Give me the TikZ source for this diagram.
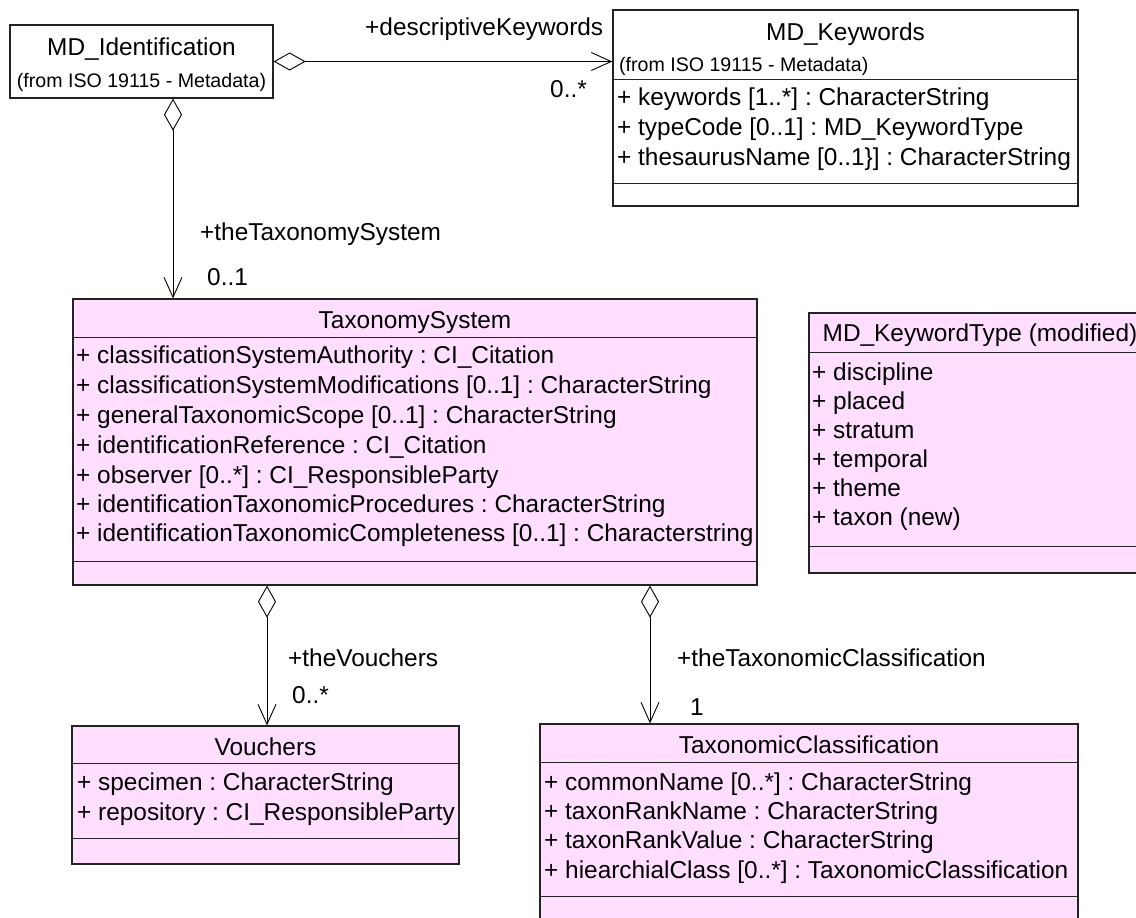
\documentclass[tikz,border=0pt]{standalone}
\usepackage{fontspec}
\setmainfont{Liberation Sans}
\usetikzlibrary{arrows.meta}
\definecolor{classpink}{RGB}{255,222,255}
\definecolor{edgegray}{RGB}{35,35,35}
\frenchspacing

\begin{document}
\begin{tikzpicture}[x=1pt,y=-1pt,
  classbox/.style={draw=edgegray, line width=1.3pt, rectangle, inner sep=0pt},
  pinkbox/.style={classbox, fill=classpink},
  whitebox/.style={classbox, fill=white},
  divider/.style={draw=edgegray, line width=1.2pt},
  big/.style={font=\fontsize{24.4pt}{29pt}\selectfont, inner sep=0pt, text height=17.5pt, text depth=0pt},
  small/.style={font=\fontsize{19.6pt}{24pt}\selectfont, inner sep=0pt, text height=14pt, text depth=0pt},
  title/.style={big, anchor=center},
  attr/.style={big, anchor=west},
  lbl/.style={big, anchor=west},
  assoc/.style={draw=black, line width=0.9pt,
    arrows={Diamond[open,length=32pt,width=18pt]-Straight Barb[length=20pt,width=18pt]}},
]
\useasboundingbox (0,0) rectangle (1136,918);
\clip (0,0) rectangle (1136,918);

% ---------- MD_Identification ----------
\node[whitebox, minimum width=263pt, minimum height=73pt] (ident) at (141.5,61.5) {};
\node[title] (identT) at (141.5,47) {MD\_Identification};
\node[small, anchor=center] (identS) at (141.5,80) {(from ISO 19115 - Metadata)};

% ---------- MD_Keywords ----------
\node[whitebox, minimum width=465pt, minimum height=196pt] (kw) at (845.5,108) {};
\node[title] (kwT) at (845.5,32) {MD\_Keywords};
\node[small, anchor=west] (kwS) at (619,64) {(from ISO 19115 - Metadata)};
\node[attr] (kwA1) at (617,97) {+ keywords [1..*] : CharacterString};
\node[attr] (kwA2) at (617,127) {+ typeCode [0..1] : MD\_KeywordType};
\node[attr] (kwA3) at (617,157) {+ thesaurusName [0..1\}] : CharacterString};
\draw[divider] ([yshift=-70pt]kw.north west) -- ([yshift=-70pt]kw.north east);
\draw[divider] ([yshift=-174pt]kw.north west) -- ([yshift=-174pt]kw.north east);

% ---------- TaxonomySystem ----------
\node[pinkbox, minimum width=684pt, minimum height=286pt] (tsys) at (415,442) {};
\node[title] (tsysT) at (415,320) {TaxonomySystem};
\node[attr] (tsysA1) at (76,355) {+ classificationSystemAuthority : CI\_Citation};
\node[attr] (tsysA2) at (76,385) {+ classificationSystemModifications [0..1] : CharacterString};
\node[attr] (tsysA3) at (76,415) {+ generalTaxonomicScope [0..1] : CharacterString};
\node[attr] (tsysA4) at (76,445) {+ identificationReference : CI\_Citation};
\node[attr] (tsysA5) at (76,475) {+ observer [0..*] : CI\_ResponsibleParty};
\node[attr] (tsysA6) at (76,504) {+ identificationTaxonomicProcedures : CharacterString};
\node[attr] (tsysA7) at (76,533) {+ identificationTaxonomicCompleteness [0..1] : Characterstring};
\draw[divider] ([yshift=-39pt]tsys.north west) -- ([yshift=-39pt]tsys.north east);
\draw[divider] ([yshift=-263pt]tsys.north west) -- ([yshift=-263pt]tsys.north east);

% ---------- MD_KeywordType (modified) ----------
\node[pinkbox, minimum width=342pt, minimum height=260pt] (kwt) at (980,443) {};
\node[title] (kwtT) at (980,333) {MD\_KeywordType (modified)};
\node[attr] (kwtA1) at (812,372) {+ discipline};
\node[attr] (kwtA2) at (812,401) {+ placed};
\node[attr] (kwtA3) at (812,430) {+ stratum};
\node[attr] (kwtA4) at (812,459) {+ temporal};
\node[attr] (kwtA5) at (812,488) {+ theme};
\node[attr] (kwtA6) at (812,517) {+ taxon (new)};
\draw[divider] ([yshift=-40pt]kwt.north west) -- ([yshift=-40pt]kwt.north east);
\draw[divider] ([yshift=-234pt]kwt.north west) -- ([yshift=-234pt]kwt.north east);

% ---------- Vouchers ----------
\node[pinkbox, minimum width=387pt, minimum height=138pt] (vch) at (265.5,795) {};
\node[title] (vchT) at (265.5,747) {Vouchers};
\node[attr] (vchA1) at (77,782) {+ specimen : CharacterString};
\node[attr] (vchA2) at (77,812) {+ repository : CI\_ResponsibleParty};
\draw[divider] ([yshift=-38pt]vch.north west) -- ([yshift=-38pt]vch.north east);
\draw[divider] ([yshift=-113pt]vch.north west) -- ([yshift=-113pt]vch.north east);

% ---------- TaxonomicClassification ----------
\node[pinkbox, minimum width=538pt, minimum height=216pt] (tcl) at (809,832) {};
\node[title] (tclT) at (809,745) {TaxonomicClassification};
\node[attr] (tclA1) at (544,782) {+ commonName [0..*] : CharacterString};
\node[attr] (tclA2) at (544,811) {+ taxonRankName : CharacterString};
\node[attr] (tclA3) at (544,840) {+ taxonRankValue : CharacterString};
\node[attr] (tclA4) at (544,870) {+ hiearchialClass [0..*] : TaxonomicClassification};
\draw[divider] ([yshift=-39pt]tcl.north west) -- ([yshift=-39pt]tcl.north east);
\draw[divider] ([yshift=-173pt]tcl.north west) -- ([yshift=-173pt]tcl.north east);

% ---------- aggregations ----------
\coordinate (xA) at (173,0);
\coordinate (xB) at (267,0);
\coordinate (xC) at (650,0);
\draw[assoc] (ident.east) -- (ident.east -| kw.west);
\draw[assoc] (ident.south -| xA) -- (tsys.north -| xA);
\draw[assoc] (tsys.south -| xB) -- (vch.north -| xB);
\draw[assoc] (tsys.south -| xC) -- (tcl.north -| xC);

% ---------- role names and multiplicities ----------
\node[lbl] (r1) at (365,27) {+descriptiveKeywords};
\node[lbl] (m1) at (550,89) {0..*};
\node[lbl] (r2) at (200,232) {+theTaxonomySystem};
\node[lbl] (m2) at (207,277) {0..1};
\node[lbl] (r3) at (288,658) {+theVouchers};
\node[lbl] (m3) at (292,695) {0..*};
\node[lbl] (r4) at (677,658) {+theTaxonomicClassification};
\node[lbl] (m4) at (690,707) {1};
\end{tikzpicture}
\end{document}
